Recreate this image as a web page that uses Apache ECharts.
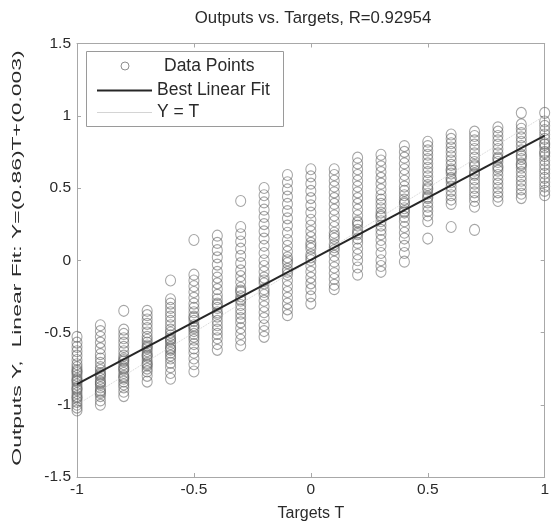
<!DOCTYPE html>
<html>
<head>
<meta charset="utf-8">
<script src="https://cdn.jsdelivr.net/npm/echarts@6/dist/echarts.min.js"></script>
<style>
html,body{margin:0;padding:0;background:#fff;}
#chart{width:552px;height:527px;}
</style>
</head>
<body>
<div id="chart"></div>
<script>
// Targets (column x positions)
var targets = [-1.0,-0.9,-0.8,-0.7,-0.6,-0.5,-0.4,-0.3,-0.2,-0.1,0.0,0.1,0.2,0.3,0.4,0.5,0.6,0.7,0.8,0.9,1.0];

// Outputs
var outM10 = [-0.53,-0.57,-0.60,-0.63,-0.66,-0.69,-0.72,-0.74,-0.76,-0.78,-0.80,-0.82,-0.84,-0.86,-0.88,-0.90,-0.92,-0.94,-0.96,-0.98,-1.00,-1.02,-1.04,-0.77,-0.83,-0.89,-0.95];
var outM09 = [-0.45,-0.49,-0.53,-0.57,-0.61,-0.65,-0.68,-0.71,-0.74,-0.76,-0.78,-0.80,-0.82,-0.84,-0.86,-0.88,-0.90,-0.92,-0.94,-0.97,-1.00,-0.79,-0.85,-0.91];
var outM08 = [-0.35,-0.48,-0.51,-0.54,-0.57,-0.60,-0.63,-0.66,-0.68,-0.70,-0.72,-0.74,-0.76,-0.78,-0.80,-0.82,-0.84,-0.86,-0.88,-0.91,-0.94,-0.69,-0.75,-0.81];
var outM07 = [-0.35,-0.38,-0.41,-0.44,-0.47,-0.50,-0.53,-0.55,-0.57,-0.59,-0.61,-0.63,-0.65,-0.67,-0.69,-0.71,-0.73,-0.75,-0.77,-0.80,-0.84,-0.60,-0.66,-0.72];
var outM06 = [-0.14,-0.27,-0.30,-0.33,-0.36,-0.39,-0.42,-0.45,-0.48,-0.50,-0.52,-0.54,-0.56,-0.58,-0.60,-0.62,-0.64,-0.66,-0.68,-0.71,-0.74,-0.78,-0.82,-0.55,-0.61];
var outM05 = [0.14,-0.10,-0.14,-0.18,-0.22,-0.26,-0.30,-0.33,-0.36,-0.39,-0.42,-0.45,-0.47,-0.49,-0.51,-0.53,-0.55,-0.58,-0.61,-0.64,-0.68,-0.72,-0.77,-0.40,-0.46];
var outM04 = [0.17,0.12,0.07,0.02,-0.03,-0.08,-0.12,-0.16,-0.20,-0.24,-0.27,-0.30,-0.33,-0.36,-0.39,-0.42,-0.45,-0.48,-0.51,-0.54,-0.58,-0.62,-0.31,-0.37];
var outM03 = [0.41,0.23,0.18,0.13,0.08,0.03,-0.02,-0.07,-0.11,-0.15,-0.19,-0.22,-0.25,-0.28,-0.31,-0.34,-0.37,-0.40,-0.43,-0.47,-0.51,-0.55,-0.59,-0.21,-0.27];
var outM02 = [0.50,0.45,0.40,0.35,0.30,0.25,0.20,0.15,0.10,0.05,0.00,-0.04,-0.08,-0.12,-0.16,-0.20,-0.24,-0.28,-0.32,-0.36,-0.40,-0.45,-0.49,-0.53,-0.14,-0.22];
var outM01 = [0.59,0.54,0.49,0.44,0.39,0.34,0.29,0.24,0.19,0.14,0.10,0.06,0.02,-0.02,-0.06,-0.10,-0.14,-0.18,-0.22,-0.26,-0.30,-0.34,-0.38,-0.08,0.00];
var outP00 = [0.63,0.58,0.53,0.48,0.43,0.38,0.33,0.28,0.24,0.20,0.16,0.12,0.08,0.04,0.00,-0.04,-0.08,-0.12,-0.16,-0.20,-0.25,-0.30,0.10,0.02];
var outP01 = [0.63,0.59,0.55,0.51,0.47,0.43,0.39,0.35,0.31,0.27,0.23,0.19,0.15,0.11,0.07,0.03,-0.01,-0.05,-0.09,-0.13,-0.17,-0.20,0.17,0.09];
var outP02 = [0.71,0.67,0.63,0.59,0.55,0.51,0.47,0.43,0.39,0.35,0.31,0.27,0.24,0.21,0.18,0.15,0.12,0.08,0.04,0.00,-0.05,-0.10,0.26,0.19];
var outP03 = [0.73,0.69,0.65,0.61,0.57,0.53,0.49,0.45,0.42,0.39,0.36,0.33,0.30,0.27,0.24,0.21,0.18,0.14,0.10,0.05,0.00,-0.04,-0.08,0.31];
var outP04 = [0.79,0.75,0.71,0.67,0.63,0.59,0.55,0.51,0.48,0.45,0.42,0.39,0.36,0.33,0.30,0.27,0.23,0.19,0.15,0.10,0.05,-0.01,0.40,0.34];
var outP05 = [0.82,0.79,0.76,0.73,0.70,0.67,0.64,0.61,0.58,0.55,0.52,0.49,0.46,0.43,0.40,0.37,0.34,0.31,0.27,0.15,0.50,0.44];
var outP06 = [0.87,0.84,0.81,0.78,0.75,0.72,0.69,0.66,0.63,0.60,0.57,0.54,0.51,0.48,0.45,0.42,0.39,0.23,0.62,0.56];
var outP07 = [0.89,0.86,0.83,0.80,0.77,0.74,0.71,0.68,0.65,0.62,0.59,0.56,0.53,0.50,0.47,0.44,0.41,0.37,0.21,0.66,0.60];
var outP08 = [0.92,0.89,0.86,0.83,0.80,0.77,0.74,0.71,0.68,0.65,0.62,0.59,0.56,0.53,0.50,0.47,0.44,0.41,0.70,0.64];
var outP09 = [1.02,0.94,0.91,0.88,0.85,0.82,0.79,0.76,0.73,0.70,0.67,0.64,0.61,0.58,0.55,0.52,0.49,0.46,0.43,0.72,0.66];
var outP10 = [1.02,0.96,0.93,0.90,0.87,0.84,0.81,0.78,0.75,0.72,0.69,0.66,0.63,0.60,0.57,0.54,0.51,0.48,0.45,0.80,0.74];

var outputs = [outM10,outM09,outM08,outM07,outM06,outM05,outM04,outM03,outM02,outM01,outP00,outP01,outP02,outP03,outP04,outP05,outP06,outP07,outP08,outP09,outP10];

// Fit parameters and axis ticks
var fitSlope = 0.86;
var fitOffset = 0.003;
var xTicks = [-1, -0.5, 0, 0.5, 1];
var yTicks = [-1.5, -1, -0.5, 0, 0.5, 1, 1.5];

// Texts
var titleText = 'Outputs vs. Targets, R=0.92954';
var xName = 'Targets T';
var yName = 'Outputs Y,  Linear Fit: Y=(' + fitSlope.toFixed(2) + ')T+(' + fitOffset + ')';
var legendNames = ['Data Points', 'Best Linear Fit', 'Y = T'];

var scatterData = [];
targets.forEach(function (t, i) {
  outputs[i].forEach(function (v) { scatterData.push([t, v]); });
});
var fitData = [[xTicks[0], fitSlope * xTicks[0] + fitOffset], [xTicks[xTicks.length - 1], fitSlope * xTicks[xTicks.length - 1] + fitOffset]];
var ytData = [[xTicks[0], xTicks[0]], [xTicks[xTicks.length - 1], xTicks[xTicks.length - 1]]];

var FONT = '"Liberation Sans", Arial, sans-serif';
var axisGray = '#a8a8a8';
var labelColor = '#2a2a2a';
var markerColor = 'rgba(95,95,95,0.7)';
var ytColor = '#d4d4d4';
var fitColor = '#262626';

var chart = echarts.init(document.getElementById('chart'), null, {renderer: 'canvas'});
chart.setOption({
  animation: false,
  backgroundColor: '#fff',
  grid: {left: 77, right: 4, top: 43.5, bottom: 49, containLabel: false},
  xAxis: [{
    type: 'value', min: -1, max: 1, interval: 0.5, position: 'bottom',
    name: xName, nameLocation: 'middle', nameGap: 29,
    nameTextStyle: {fontFamily: FONT, fontSize: 16, color: labelColor},
    axisLine: {show: true, onZero: false, lineStyle: {color: axisGray}},
    axisTick: {show: true, inside: true, length: 4, lineStyle: {color: axisGray}},
    axisLabel: {fontFamily: FONT, fontSize: 15.5, color: labelColor, margin: 5, showMinLabel: true, showMaxLabel: true},
    splitLine: {show: false}
  }, {
    type: 'value', min: -1, max: 1, interval: 0.5, position: 'top',
    axisLine: {show: true, onZero: false, lineStyle: {color: axisGray}},
    axisTick: {show: true, inside: true, length: 4, lineStyle: {color: axisGray}},
    axisLabel: {show: false}, splitLine: {show: false}
  }],
  yAxis: [{
    type: 'value', min: -1.5, max: 1.5, interval: 0.5, position: 'left',
    axisLine: {show: true, onZero: false, lineStyle: {color: axisGray}},
    axisTick: {show: true, inside: true, length: 4, lineStyle: {color: axisGray}},
    axisLabel: {fontFamily: FONT, fontSize: 15.5, color: labelColor, margin: 6},
    splitLine: {show: false}
  }, {
    type: 'value', min: -1.5, max: 1.5, interval: 0.5, position: 'right',
    axisLine: {show: true, onZero: false, lineStyle: {color: axisGray}},
    axisTick: {show: true, inside: true, length: 4, lineStyle: {color: axisGray}},
    axisLabel: {show: false}, splitLine: {show: false}
  }],
  graphic: [
    // chart title
    {
      type: 'text', x: 313, y: 18,
      style: {text: titleText, fontFamily: FONT, fontSize: 16.8, fill: labelColor, textAlign: 'center', textVerticalAlign: 'middle'},
      z: 10
    },
    // rotated y-axis title
    {
      type: 'text', x: 17, y: 258, rotation: Math.PI / 2, scaleX: 1.7,
      style: {text: yName, fontFamily: FONT, fontSize: 13.5, fill: labelColor, textAlign: 'center', textVerticalAlign: 'middle'},
      z: 10
    },
    // legend box
    {
      type: 'group', z: 20,
      children: [
        {type: 'rect', shape: {x: 86.5, y: 51.5, width: 197, height: 75}, style: {fill: '#fff', stroke: '#9a9a9a', lineWidth: 1}},
        {type: 'circle', shape: {cx: 125, cy: 66, r: 4}, style: {fill: 'none', stroke: markerColor, lineWidth: 1}},
        {type: 'text', x: 164, y: 66, style: {text: legendNames[0], fontFamily: FONT, fontSize: 17.5, fill: labelColor, textVerticalAlign: 'middle'}},
        {type: 'line', shape: {x1: 97, y1: 90.5, x2: 152, y2: 90.5}, style: {stroke: fitColor, lineWidth: 2}},
        {type: 'text', x: 157, y: 90, style: {text: legendNames[1], fontFamily: FONT, fontSize: 17.5, fill: labelColor, textVerticalAlign: 'middle'}},
        {type: 'line', shape: {x1: 97, y1: 112.5, x2: 152, y2: 112.5}, style: {stroke: ytColor, lineWidth: 1}},
        {type: 'text', x: 157, y: 112, style: {text: legendNames[2], fontFamily: FONT, fontSize: 17.5, fill: labelColor, textVerticalAlign: 'middle'}}
      ]
    }
  ],
  series: [{
    name: legendNames[0], type: 'scatter', symbol: 'circle', symbolSize: [10, 11],
    xAxisIndex: 0, yAxisIndex: 0,
    itemStyle: {color: 'transparent', borderColor: markerColor, borderWidth: 1.1},
    data: scatterData, z: 2
  }, {
    name: legendNames[1], type: 'line', showSymbol: false, symbol: 'none',
    xAxisIndex: 0, yAxisIndex: 0,
    lineStyle: {color: fitColor, width: 2},
    data: fitData, z: 4
  }, {
    name: legendNames[2], type: 'line', showSymbol: false, symbol: 'none',
    xAxisIndex: 0, yAxisIndex: 0,
    lineStyle: {color: ytColor, width: 1, type: 'dotted'},
    data: ytData, z: 3
  }]
});
</script>
</body>
</html>
